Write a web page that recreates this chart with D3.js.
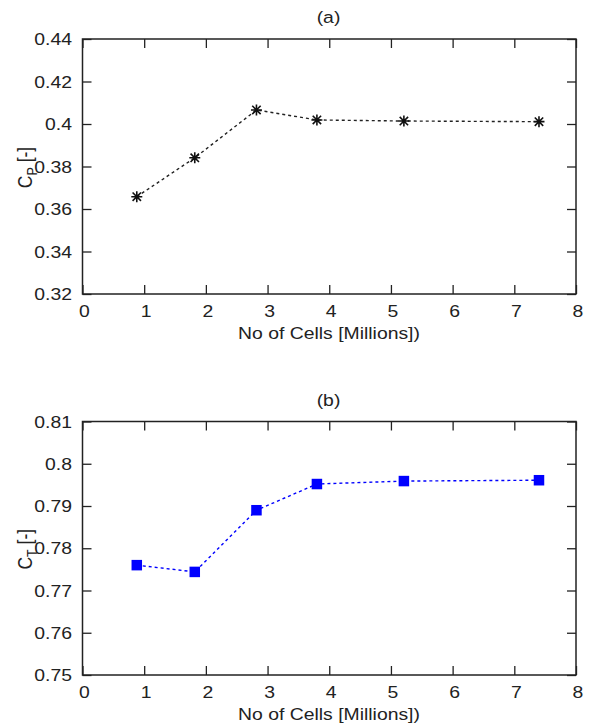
<!DOCTYPE html>
<html>
<head>
<meta charset="utf-8">
<script src="https://cdn.jsdelivr.net/npm/d3@7"></script>
<style>
  html, body { margin: 0; padding: 0; background: #fff; }
  svg text { font-family: "Liberation Sans", Arial, Helvetica, sans-serif; fill: #222; }
</style>
</head>
<body>
<svg id="chart" width="591" height="727"></svg>
<script>
// ---- data ----
const cellsMillions = [0.88, 1.82, 2.82, 3.80, 5.21, 7.40];
const cpValues = [0.3658, 0.3841, 0.4066, 0.4019, 0.4014, 0.4011];
const ctValues = [0.7760, 0.7744, 0.7890, 0.7952, 0.7959, 0.7961];
const xTicks = [0, 1, 2, 3, 4, 5, 6, 7, 8];
const cpTicks = [0.32, 0.34, 0.36, 0.38, 0.40, 0.42, 0.44];
const ctTicks = [0.75, 0.76, 0.77, 0.78, 0.79, 0.80, 0.81];
const xLabel = "No of Cells [Millions])";

const svg = d3.select("#chart");
const SX = 1.14;      // horizontal stretch of text in the reference
const FS = 17;

function stretchedText(g, x, y, txt, anchor) {
  return g.append("text")
    .attr("transform", `translate(${x},${y}) scale(${SX},1)`)
    .attr("text-anchor", anchor || "middle")
    .style("font-size", FS + "px")
    .text(txt);
}

function panel(cfg) {
  const left = 82.5, right = 576, top = cfg.top, bottom = cfg.bottom;
  const x = d3.scaleLinear().domain([0, 8]).range([left, right]);
  const y = d3.scaleLinear().domain(cfg.yDomain).range([bottom, top]);
  const g = svg.append("g");

  // ticks (inward) on all four sides via d3 axes
  const tick = 9;
  const axB = d3.axisBottom(x).tickValues(xTicks).tickSizeInner(-tick).tickSizeOuter(0).tickFormat("");
  const axT = d3.axisTop(x).tickValues(xTicks).tickSizeInner(-tick).tickSizeOuter(0).tickFormat("");
  const axL = d3.axisLeft(y).tickValues(cfg.yTicks).tickSizeInner(-tick).tickSizeOuter(0).tickFormat("");
  const axR = d3.axisRight(y).tickValues(cfg.yTicks).tickSizeInner(-tick).tickSizeOuter(0).tickFormat("");
  [[axB, `translate(0,${bottom})`], [axT, `translate(0,${top})`],
   [axL, `translate(${left},0)`], [axR, `translate(${right},0)`]].forEach(([ax, tr]) => {
    const a = g.append("g").attr("transform", tr).call(ax);
    a.select(".domain").remove();
    a.selectAll(".tick line").attr("stroke", "#222").attr("stroke-width", 1.3);
  });

  // frame
  g.append("rect").attr("x", left).attr("y", top)
    .attr("width", right - left).attr("height", bottom - top)
    .attr("fill", "none").attr("stroke", "#222").attr("stroke-width", 1.5);

  // tick labels
  xTicks.forEach(v => stretchedText(g, x(v) + 2, bottom + 23, d3.format("d")(v), "middle"));
  cfg.yTicks.forEach(v => stretchedText(g, left - 10.5, y(v) + 6, cfg.fmt(v), "end"));

  // title
  stretchedText(g, 328.5, top - 16, cfg.title, "middle");
  // x label
  stretchedText(g, 329, bottom + 45, xLabel, "middle");

  // y label (rotated)
  const yl = g.append("text")
    .attr("transform", `translate(32,${(top + bottom) / 2 + 1}) scale(${SX},1) rotate(-90)`)
    .attr("text-anchor", "middle")
    .style("font-size", "17.5px");
  yl.append("tspan").text("C");
  yl.append("tspan").attr("dy", 4).style("font-size", "12.5px").text(cfg.sub);
  yl.append("tspan").attr("dy", -4).text(" [-]");

  // line
  const line = d3.line().x((d, i) => x(cellsMillions[i])).y(d => y(d));
  g.append("path").datum(cfg.values)
    .attr("d", line).attr("fill", "none")
    .attr("stroke", cfg.color).attr("stroke-width", 1.4)
    .attr("stroke-dasharray", "3,3");

  // markers
  const pts = g.selectAll(".pt").data(cfg.values).enter().append("g")
    .attr("transform", (d, i) => `translate(${x(cellsMillions[i])},${y(d)})`);
  if (cfg.marker === "star") {
    const r = 5.5, q = 4.2;
    pts.append("path")
      .attr("d", `M${-r},0L${r},0M0,${-r}L0,${r}M${-q},${-q}L${q},${q}M${-q},${q}L${q},${-q}`)
      .attr("stroke", "#111").attr("stroke-width", 1.6).attr("fill", "none");
  } else {
    const s = 10.5;
    pts.append("rect").attr("x", -s / 2).attr("y", -s / 2).attr("width", s).attr("height", s)
      .attr("fill", cfg.color);
  }
}

panel({
  top: 39, bottom: 294, yDomain: [0.32, 0.44], yTicks: cpTicks,
  fmt: v => d3.format("")(+v.toFixed(2)), title: "(a)", sub: "P",
  values: cpValues, color: "#222", marker: "star"
});
panel({
  top: 421.5, bottom: 675, yDomain: [0.75, 0.81], yTicks: ctTicks,
  fmt: v => d3.format("")(+v.toFixed(2)), title: "(b)", sub: "T",
  values: ctValues, color: "#0000ff", marker: "square"
});
</script>
</body>
</html>
